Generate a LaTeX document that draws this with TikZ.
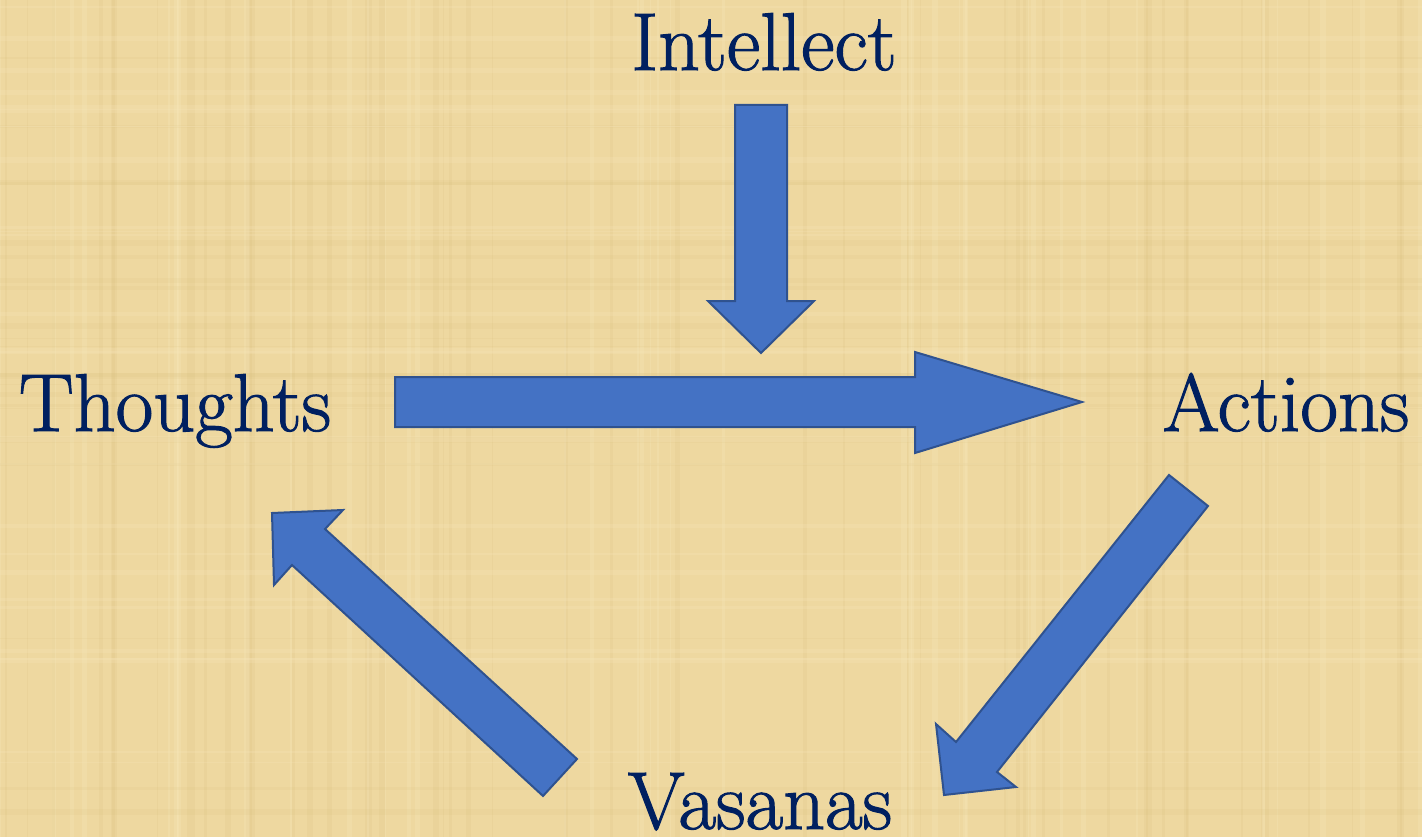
\documentclass[tikz,border=0pt]{standalone}
\usepackage{fontspec}
\newfontfamily\lblfont{Latin Modern Roman}[FakeBold=1.3]
\begin{document}
\begin{tikzpicture}[x=1pt,y=-1pt,
  lbl/.style={text=navy,font=\lblfont\fontsize{82}{90}\selectfont,inner sep=0pt,anchor=base},
  blockarrow/.style={fill=arrowblue,draw=arrowedge,line width=2pt,line join=miter},
  fiber/.style={line width=#1}]
\definecolor{parch}{RGB}{238,216,160}
\definecolor{parchlight}{RGB}{247,230,185}
\definecolor{parchdark}{RGB}{214,188,120}
\definecolor{navy}{RGB}{0,32,96}
\definecolor{arrowblue}{RGB}{68,114,196}
\definecolor{arrowedge}{RGB}{47,82,143}
\useasboundingbox (0,0) rectangle (1422,837);
\fill[parch] (0,0) rectangle (1422,837);
% faint papyrus fibres
\pgfmathsetseed{7}
\foreach \i in {1,...,90}{
  \pgfmathsetmacro{\xx}{rnd*1422}
  \pgfmathsetmacro{\ww}{1+rnd*5}
  \pgfmathsetmacro{\cc}{rnd}
  \ifdim\cc pt>0.5pt
    \draw[parchlight,opacity=0.3,fiber=\ww] (\xx,0) -- (\xx,837);
  \else
    \draw[parchdark,opacity=0.15,fiber=\ww] (\xx,0) -- (\xx,837);
  \fi
}
\foreach \i in {1,...,50}{
  \pgfmathsetmacro{\yy}{rnd*837}
  \pgfmathsetmacro{\ww}{1+rnd*5}
  \pgfmathsetmacro{\cc}{rnd}
  \ifdim\cc pt>0.5pt
    \draw[parchlight,opacity=0.25,fiber=\ww] (0,\yy) -- (1422,\yy);
  \else
    \draw[parchdark,opacity=0.12,fiber=\ww] (0,\yy) -- (1422,\yy);
  \fi
}
% labels
\node[lbl] (intellect) at (764,70) {Intellect};
\node[lbl] (thoughts) at (175,431) {Thoughts};
\node[lbl] (actions) at (1286,431) {Actions};
\node[lbl] (vasanas) at (760,829) {Vasanas};
% Intellect -> down
\draw[blockarrow] (735,105) -- (787,105) -- (787,301) -- (814,301) -- (761,353) -- (708,301) -- (735,301) -- cycle;
% Thoughts -> Actions
\draw[blockarrow] (395,377) -- (915,377) -- (915,352) -- (1082,402) -- (915,453) -- (915,427) -- (395,427) -- cycle;
% Actions -> Vasanas
\draw[blockarrow] (1169,475) -- (1208,506) -- (997,772) -- (1016,787) -- (944,795) -- (936,724) -- (956,742) -- cycle;
% Vasanas -> Thoughts
\draw[blockarrow] (577,759) -- (543,796) -- (292,565) -- (274,585) -- (272,513) -- (343,510) -- (325,529) -- cycle;
\end{tikzpicture}
\end{document}
